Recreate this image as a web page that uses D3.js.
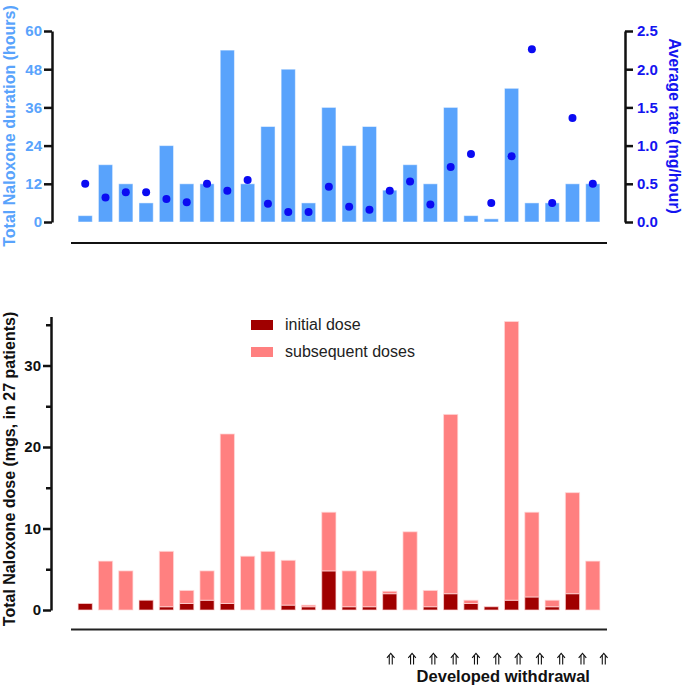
<!DOCTYPE html>
<html>
<head>
<meta charset="utf-8">
<script src="https://cdn.jsdelivr.net/npm/d3@7"></script>
<style>
  html, body { margin: 0; padding: 0; background: #fff; }
  svg { display: block; font-family: "Liberation Sans", Arial, sans-serif; }
</style>
</head>
<body>
<svg id="chart" width="685" height="693"></svg>
<script>
// ---------------- DATA ----------------
const patients = d3.range(1, 27);              // 26 patients shown
const durationHours = [2, 18, 12, 6, 24, 12, 12, 54, 12, 30, 48, 6, 36, 24, 30, 10, 18, 12, 36, 2, 1, 42, 6, 6, 12, 12];
const avgRate = [0.50, 0.32, 0.39, 0.39, 0.30, 0.26, 0.50, 0.41, 0.55, 0.24, 0.13, 0.13, 0.46, 0.20, 0.16, 0.41, 0.53, 0.23, 0.72, 0.89, 0.25, 0.86, 2.26, 0.25, 1.36, 0.50];
const totalDose = [0.8, 6.0, 4.8, 1.2, 7.2, 2.4, 4.8, 21.6, 6.6, 7.2, 6.1, 0.6, 12.0, 4.8, 4.8, 2.3, 9.6, 2.4, 24.0, 1.2, 0.4, 35.4, 12.0, 1.2, 14.4, 6.0];
const initialDose = [0.8, 0, 0, 1.2, 0.4, 0.8, 1.2, 0.8, 0, 0, 0.6, 0.4, 4.8, 0.4, 0.4, 2.0, 0, 0.4, 2.0, 0.8, 0.4, 1.2, 1.6, 0.4, 2.0, 0];
const withdrawalPatients = [16, 17, 18, 19, 20, 21, 22, 23, 24, 25, 26];
const durationTicks = [0, 12, 24, 36, 48, 60];
const rateTicks = [0, 0.5, 1.0, 1.5, 2.0, 2.5];
const doseTicks = [0, 10, 20, 30];
const doseMinorTicks = [5, 15, 25, 35];
const seriesNames = ["initial dose", "subsequent doses"];

// ---------------- STYLE ----------------
const C = {
  barBlue: "#59a3fc",
  leftBlue: "#59a3fc",
  dotBlue: "#0b0bf2",
  rightBlue: "#1414f0",
  darkRed: "#a00000",
  lightRed: "#ff8080"
};
const TICK_FS = 15;

const svg = d3.select("#chart");

// shared x scale
const x = d3.scaleBand().domain(patients).range([71, 607]).paddingInner(0.3).paddingOuter(0.35);

// ---------------- TOP PANEL ----------------
const yDur = d3.scaleLinear().domain([0, 60]).range([222, 31]);
const yRate = d3.scaleLinear().domain([0, 2.5]).range([222, 31]);

const topG = svg.append("g");

topG.selectAll("rect.dur").data(patients).join("rect")
  .attr("class", "dur")
  .attr("x", d => x(d))
  .attr("width", x.bandwidth())
  .attr("y", (d, i) => yDur(durationHours[i]))
  .attr("height", (d, i) => yDur(0) - yDur(durationHours[i]))
  .attr("fill", C.barBlue)
  .attr("stroke", "rgba(255,255,255,0.5)")
  .attr("stroke-width", 1);

topG.selectAll("circle.rate").data(patients).join("circle")
  .attr("class", "rate")
  .attr("cx", d => x(d) + x.bandwidth() / 2)
  .attr("cy", (d, i) => yRate(avgRate[i]))
  .attr("r", 4)
  .attr("fill", C.dotBlue);

// left axis
const axL = topG.append("g").attr("transform", "translate(52,0)")
  .call(d3.axisLeft(yDur).tickValues(durationTicks).tickSize(8).tickPadding(2).tickSizeOuter(0));
axL.select(".domain").attr("stroke", "#111").attr("stroke-width", 2.5);
axL.selectAll(".tick line").attr("stroke", "#111").attr("stroke-width", 2.5);
axL.selectAll(".tick text").attr("fill", C.leftBlue).attr("font-size", TICK_FS).attr("font-weight", "bold")
  .attr("font-family", "Liberation Sans, Arial, sans-serif");

// right axis
const axR = topG.append("g").attr("transform", "translate(625,0)")
  .call(d3.axisRight(yRate).tickValues(rateTicks).tickFormat(d3.format(".1f")).tickSize(8).tickPadding(4).tickSizeOuter(0));
axR.select(".domain").attr("stroke", "#111").attr("stroke-width", 2.5);
axR.selectAll(".tick line").attr("stroke", "#111").attr("stroke-width", 2.5);
axR.selectAll(".tick text").attr("fill", C.rightBlue).attr("font-size", TICK_FS).attr("font-weight", "bold")
  .attr("font-family", "Liberation Sans, Arial, sans-serif");

// baseline under top panel
topG.append("line")
  .attr("x1", x.range()[0]).attr("x2", x.range()[1])
  .attr("y1", 243).attr("y2", 243)
  .attr("stroke", "#111").attr("stroke-width", 2);

// titles
topG.append("text")
  .attr("transform", "translate(15,126) rotate(-90)")
  .attr("text-anchor", "middle")
  .attr("font-size", 16).attr("font-weight", "bold")
  .attr("fill", C.leftBlue)
  .text("Total Naloxone duration (hours)");

topG.append("text")
  .attr("transform", "translate(669,126) rotate(90)")
  .attr("text-anchor", "middle")
  .attr("font-size", 16).attr("font-weight", "bold")
  .attr("fill", C.rightBlue)
  .text("Average rate (mg/hour)");

// ---------------- BOTTOM PANEL ----------------
const yDose = d3.scaleLinear().domain([0, 36]).range([610, 316.6]);
const bot = svg.append("g");

const stackRows = patients.map((p, i) => ({
  p,
  initial: initialDose[i],
  subsequent: Math.max(0, +(totalDose[i] - initialDose[i]).toFixed(2))
}));
const stack = d3.stack().keys(["initial", "subsequent"])(stackRows);
const colorOf = { initial: C.darkRed, subsequent: C.lightRed };

bot.selectAll("g.layer").data(stack).join("g")
  .attr("class", "layer")
  .attr("fill", d => colorOf[d.key])
  .selectAll("rect").data(d => d.filter(s => s[1] - s[0] > 0)).join("rect")
  .attr("x", d => x(d.data.p))
  .attr("width", x.bandwidth())
  .attr("y", d => yDose(d[1]))
  .attr("height", d => yDose(d[0]) - yDose(d[1]))
  .attr("stroke", "rgba(255,220,220,0.7)")
  .attr("stroke-width", 1);

const axD = bot.append("g").attr("transform", "translate(51,0)")
  .call(d3.axisLeft(yDose).tickValues(doseTicks).tickSize(8).tickPadding(2).tickSizeOuter(0));
axD.select(".domain").attr("stroke", "#111").attr("stroke-width", 2.5);
axD.selectAll(".tick line").attr("stroke", "#111").attr("stroke-width", 2.5);
axD.selectAll(".tick text").attr("fill", "#111").attr("font-size", TICK_FS).attr("font-weight", "bold")
  .attr("font-family", "Liberation Sans, Arial, sans-serif");

const axDm = bot.append("g").attr("transform", "translate(51,0)")
  .call(d3.axisLeft(yDose).tickValues(doseMinorTicks).tickSize(5).tickFormat(""));
axDm.select(".domain").remove();
axDm.selectAll(".tick line").attr("stroke", "#111").attr("stroke-width", 2.5);

bot.append("line")
  .attr("x1", x.range()[0]).attr("x2", x.range()[1])
  .attr("y1", 629.5).attr("y2", 629.5)
  .attr("stroke", "#222").attr("stroke-width", 2);

bot.append("text")
  .attr("transform", "translate(15,469) rotate(-90)")
  .attr("text-anchor", "middle")
  .attr("font-size", 16).attr("font-weight", "bold")
  .attr("fill", "#111")
  .text("Total Naloxone dose (mgs, in 27 patients)");

// legend
const leg = bot.append("g").attr("transform", "translate(251,320)");
seriesNames.forEach((name, i) => {
  const g = leg.append("g").attr("transform", `translate(0,${i * 27})`);
  g.append("rect").attr("width", 22).attr("height", 10)
    .attr("fill", i === 0 ? C.darkRed : C.lightRed);
  g.append("text").attr("x", 34).attr("y", 10)
    .attr("font-size", 16).attr("fill", "#222").text(name);
});

// withdrawal arrows (double arrow shape)
const arrows = bot.selectAll("g.arrow").data(withdrawalPatients).join("g")
  .attr("class", "arrow")
  .attr("transform", (d, i) => `translate(${x(d) + x.bandwidth() / 2 + 1 + i},653)`)
  .attr("fill", "none").attr("stroke", "#111").attr("stroke-width", 1.1);
arrows.append("path").attr("d", "M-3.8,4.8 L0,0.4 L3.8,4.8");
arrows.append("path").attr("d", "M-1.5,2.3 V11.5 M1.5,2.3 V11.5");

bot.append("text")
  .attr("x", x(withdrawalPatients[0]) + (x(withdrawalPatients[withdrawalPatients.length - 1]) + x.bandwidth() - x(withdrawalPatients[0])) / 2 + 12)
  .attr("y", 682)
  .attr("text-anchor", "middle")
  .attr("font-size", 16.5).attr("font-weight", "bold").attr("fill", "#111")
  .text("Developed withdrawal");
</script>
</body>
</html>
